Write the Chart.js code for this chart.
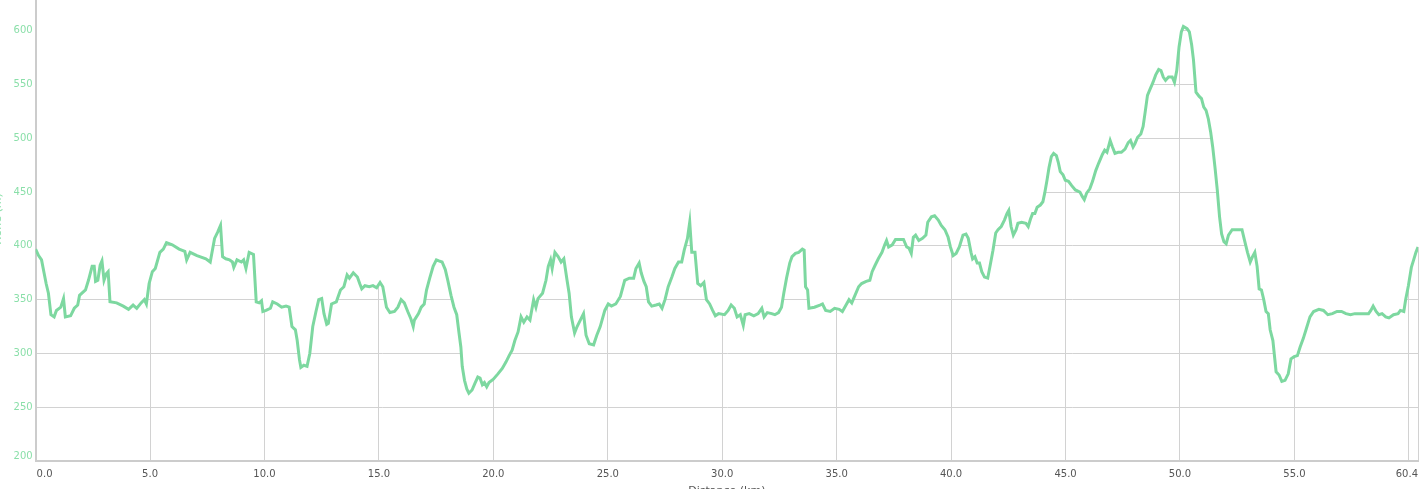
<!DOCTYPE html>
<html>
<head>
<meta charset="utf-8">
<script src="https://cdn.jsdelivr.net/npm/chart.js@4.4.1/dist/chart.umd.min.js"></script>
<style>
  html, body { margin: 0; padding: 0; background: #fff; overflow: hidden; width: 1426px; height: 489px; }
  #wrap { position: absolute; left: -12px; top: -33px; width: 1438px; height: 535px; }
</style>
</head>
<body>
<div id="wrap"><canvas id="profile"></canvas></div>
<script>
// distance along the track (km) and elevation (m)
const distanceKm = [
  0, 0.13, 0.26, 0.36, 0.46, 0.56, 0.67, 0.81, 0.91, 1.1,
  1.22, 1.3, 1.53, 1.69, 1.84, 1.92, 2.18, 2.31, 2.47, 2.56,
  2.62, 2.72, 2.82, 2.9, 2.99, 3.09, 3.17, 3.25, 3.54, 3.83,
  4.06, 4.26, 4.42, 4.61, 4.75, 4.84, 4.96, 5.1, 5.23, 5.43,
  5.58, 5.72, 5.97, 6.27, 6.52, 6.6, 6.75, 7.05, 7.44, 7.63,
  7.82, 7.96, 8.08, 8.17, 8.31, 8.47, 8.6, 8.66, 8.8, 8.99,
  9.09, 9.19, 9.33, 9.52, 9.64, 9.77, 9.87, 9.93, 10.07, 10.26,
  10.36, 10.56, 10.75, 10.94, 11.08, 11.2, 11.35, 11.43, 11.53, 11.59,
  11.72, 11.86, 11.98, 12.11, 12.25, 12.37, 12.5, 12.6, 12.72, 12.79,
  12.93, 13.14, 13.32, 13.47, 13.61, 13.71, 13.88, 14.06, 14.16, 14.25,
  14.39, 14.58, 14.74, 14.9, 15.05, 15.17, 15.33, 15.48, 15.68, 15.83,
  15.97, 16.11, 16.26, 16.4, 16.5, 16.55, 16.73, 16.85, 16.98, 17.08,
  17.22, 17.37, 17.51, 17.62, 17.76, 17.9, 18.01, 18.15, 18.28, 18.4,
  18.5, 18.58, 18.64, 18.74, 18.84, 18.93, 19.07, 19.19, 19.32, 19.42,
  19.52, 19.61, 19.71, 19.81, 20.0, 20.2, 20.39, 20.55, 20.69, 20.82,
  20.94, 21.08, 21.21, 21.33, 21.47, 21.6, 21.76, 21.86, 21.95, 22.15,
  22.3, 22.4, 22.5, 22.57, 22.69, 22.83, 22.96, 23.08, 23.22, 23.31,
  23.41, 23.55, 23.66, 23.8, 23.94, 24.05, 24.19, 24.38, 24.52, 24.67,
  24.87, 25.02, 25.16, 25.35, 25.55, 25.74, 25.94, 26.13, 26.23, 26.37,
  26.46, 26.58, 26.68, 26.78, 26.92, 27.11, 27.25, 27.37, 27.5, 27.64,
  27.8, 27.93, 28.09, 28.23, 28.34, 28.48, 28.58, 28.67, 28.81, 28.93,
  29.06, 29.2, 29.31, 29.45, 29.58, 29.7, 29.84, 30.1, 30.26, 30.39,
  30.53, 30.65, 30.79, 30.92, 31.0, 31.18, 31.38, 31.57, 31.73, 31.83,
  31.97, 32.16, 32.3, 32.46, 32.59, 32.69, 32.81, 32.95, 33.05, 33.2,
  33.34, 33.5, 33.58, 33.64, 33.73, 33.79, 34.03, 34.27, 34.38, 34.52,
  34.72, 34.91, 35.11, 35.25, 35.41, 35.54, 35.66, 35.8, 35.96, 36.09,
  36.29, 36.45, 36.55, 36.68, 36.82, 36.98, 37.1, 37.18, 37.27, 37.43,
  37.57, 37.76, 37.92, 38.06, 38.16, 38.26, 38.35, 38.45, 38.59, 38.75,
  38.9, 38.98, 39.14, 39.28, 39.44, 39.57, 39.73, 39.87, 39.97, 40.09,
  40.22, 40.36, 40.52, 40.65, 40.75, 40.87, 40.94, 41.04, 41.14, 41.24,
  41.34, 41.46, 41.6, 41.7, 41.83, 41.95, 42.05, 42.19, 42.33, 42.44,
  42.52, 42.62, 42.72, 42.84, 42.92, 43.08, 43.27, 43.37, 43.47, 43.56,
  43.66, 43.76, 43.9, 44.01, 44.09, 44.19, 44.28, 44.38, 44.48, 44.6,
  44.68, 44.77, 44.89, 44.99, 45.13, 45.27, 45.43, 45.63, 45.73, 45.82,
  45.92, 46.06, 46.18, 46.32, 46.45, 46.61, 46.71, 46.81, 46.95, 47.05,
  47.16, 47.3, 47.44, 47.6, 47.74, 47.84, 47.95, 48.03, 48.15, 48.29,
  48.39, 48.49, 48.58, 48.68, 48.82, 48.94, 49.07, 49.17, 49.27, 49.37,
  49.5, 49.66, 49.76, 49.86, 49.96, 50.06, 50.15, 50.31, 50.41, 50.51,
  50.59, 50.7, 50.84, 50.94, 51.04, 51.14, 51.24, 51.34, 51.43, 51.53,
  51.63, 51.73, 51.82, 51.92, 52.02, 52.12, 52.28, 52.41, 52.61, 52.71,
  52.81, 52.95, 53.07, 53.17, 53.27, 53.37, 53.46, 53.56, 53.66, 53.76,
  53.86, 53.94, 54.06, 54.2, 54.33, 54.45, 54.59, 54.73, 54.85, 54.99,
  55.13, 55.25, 55.39, 55.52, 55.68, 55.84, 56.07, 56.27, 56.46, 56.66,
  56.86, 57.06, 57.25, 57.45, 57.64, 57.84, 58.04, 58.24, 58.34, 58.44,
  58.57, 58.69, 58.83, 58.99, 59.13, 59.33, 59.53, 59.63, 59.78, 59.86,
  59.98, 60.11, 60.21, 60.31, 60.4
];
const elevationM = [
  397, 391, 387, 376, 365, 356, 336, 334, 340, 343,
  351, 334, 335, 342, 345, 354, 359, 368, 381, 381,
  367, 368, 382, 386, 368, 374, 376, 348, 347, 344,
  341, 345, 342, 347, 350, 346, 365, 376, 379, 394,
  397, 403, 401, 397, 395, 387, 394, 391, 388, 385,
  407, 413, 419, 390, 388, 387, 385, 380, 387, 385,
  387, 379, 394, 392, 348, 347, 349, 339, 340, 342,
  348, 346, 343, 344, 343, 325, 322, 312, 294, 287,
  289, 288, 300, 325, 339, 350, 351, 337, 327, 328,
  346, 348, 359, 362, 373, 370, 375, 371, 365, 360,
  363, 362, 363, 361, 366, 362, 343, 338, 339, 343,
  350, 347, 339, 332, 325, 331, 337, 343, 346, 359,
  370, 381, 387, 386, 385, 378, 368, 354, 343, 336,
  319, 306, 288, 275, 267, 263, 266, 272, 278, 277,
  271, 273, 269, 273, 276, 281, 286, 292, 298, 303,
  312, 320, 334, 329, 334, 331, 350, 343, 351, 356,
  368, 381, 387, 379, 394, 390, 385, 388, 368, 356,
  334, 319, 325, 331, 337, 317, 309, 308, 317, 325,
  340, 346, 344, 346, 353, 368, 370, 370, 379, 384,
  375, 367, 362, 348, 344, 345, 346, 342, 350, 362,
  371, 379, 385, 385, 396, 407, 422, 394, 394, 365,
  363, 366, 350, 346, 340, 335, 337, 336, 340, 345,
  342, 334, 336, 326, 336, 337, 335, 337, 342, 334,
  338, 337, 336, 338, 343, 356, 370, 384, 390, 393,
  394, 397, 396, 362, 359, 342, 343, 345, 346, 340,
  339, 342, 341, 339, 345, 350, 347, 354, 362, 365,
  367, 368, 376, 382, 388, 394, 401, 405, 399, 401,
  406, 406, 406, 399, 398, 393, 408, 410, 405, 407,
  410, 422, 427, 428, 424, 419, 415, 408, 399, 391,
  393, 399, 410, 411, 407, 394, 388, 390, 384, 384,
  376, 371, 370, 381, 396, 412, 415, 418, 424, 430,
  433, 418, 410, 415, 421, 422, 421, 418, 425, 430,
  430, 436, 438, 441, 449, 461, 473, 483, 486, 484,
  478, 469, 466, 461, 460, 456, 452, 450, 446, 443,
  449, 453, 460, 470, 477, 485, 489, 487, 498, 492,
  486, 487, 487, 490, 496, 498, 492, 495, 501, 504,
  511, 526, 540, 545, 552, 559, 564, 563, 557, 554,
  557, 557, 552, 563, 585, 599, 604, 602, 599, 587,
  573, 543, 539, 537, 529, 526, 518, 506, 492, 473,
  452, 427, 411, 404, 402, 410, 415, 415, 415, 415,
  406, 394, 385, 390, 394, 381, 360, 359, 350, 339,
  337, 322, 312, 283, 280, 274, 275, 281, 295, 297,
  298, 306, 314, 323, 334, 339, 341, 340, 336, 337,
  339, 339, 337, 336, 337, 337, 337, 337, 340, 344,
  339, 336, 337, 334, 333, 336, 337, 340, 339, 350,
  363, 380, 387, 394, 399
];
const xTicks = [0, 5, 10, 15, 20, 25, 30, 35, 40, 45, 50, 55, 60, 60.4];
const yTicks = [200, 250, 300, 350, 400, 450, 500, 550, 600, 650];

const GREEN = '#7dd8a0';
const GREEN_TXT = '#8adfa9';
const GREY_TXT = '#555555';
const GRID = '#d2d2d2';
const FONT = '"DejaVu Sans", Verdana, sans-serif';

// grid lines only show underneath the profile: clip the scale's own grid
// drawing to the area below the line
function clipGridUnderProfile(scale) {
  if (scale._gridClipped) return;
  scale._gridClipped = true;
  const drawGrid = scale.drawGrid;
  scale.drawGrid = function (area) {
    const chart = this.chart;
    const pts = chart.getDatasetMeta(0).data;
    const ctx = chart.ctx, ca = chart.chartArea;
    ctx.save();
    if (pts.length) {
      ctx.beginPath();
      ctx.moveTo(pts[0].x - 1, ca.bottom + 2);
      ctx.lineTo(pts[0].x - 1, pts[0].y);
      pts.forEach(p => ctx.lineTo(p.x, p.y));
      ctx.lineTo(pts[pts.length - 1].x + 1, pts[pts.length - 1].y);
      ctx.lineTo(pts[pts.length - 1].x + 1, ca.bottom + 2);
      ctx.closePath();
      ctx.clip();
    }
    drawGrid.call(this, area);
    ctx.restore();
  };
}

// labels at the ends are pushed inside the plot, like the original does
const edgeLabels = {
  id: 'edgeLabels',
  afterDraw(chart) {
    const { ctx, chartArea } = chart;
    const x = chart.scales.x, y = chart.scales.y;
    ctx.save();
    ctx.font = '10px ' + FONT;
    ctx.textBaseline = 'middle';
    const ly = x.top + 7 + 6;
    ctx.fillStyle = GREY_TXT;
    ctx.textAlign = 'left';
    ctx.fillText(xTicks[0].toFixed(1), chartArea.left + 1, ly);
    ctx.textAlign = 'right';
    ctx.fillText(xTicks[xTicks.length - 1].toFixed(1), chartArea.right, ly);
    ctx.fillStyle = GREEN_TXT;
    ctx.fillText(String(yTicks[0]), y.right - 3, y.getPixelForValue(yTicks[0]) - 5);
    ctx.restore();
  }
};

const points = distanceKm.map((d, i) => ({ x: d, y: elevationM[i] }));

new Chart(document.getElementById('profile'), {
  type: 'line',
  data: {
    datasets: [{
      data: points,
      borderColor: GREEN,
      borderWidth: 3,
      fill: false,
      pointRadius: 0,
      tension: 0
    }]
  },
  options: {
    responsive: true,
    maintainAspectRatio: false,
    animation: false,
    layout: { padding: { top: 10, right: 8, left: 0, bottom: 0 } },
    plugins: { legend: { display: false }, tooltip: { enabled: false } },
    scales: {
      x: {
        type: 'linear',
        min: 0,
        max: 60.4,
        afterBuildTicks: s => { s.ticks = xTicks.map(v => ({ value: v })); },
        afterFit: s => { s.height = 41; },
        afterUpdate: clipGridUnderProfile,
        ticks: {
          autoSkip: false,
          maxRotation: 0,
          padding: 7,
          color: GREY_TXT,
          font: { family: FONT, size: 10 },
          callback: v => (v === 0 || v === 60 || v === 60.4) ? '' : v.toFixed(1)
        },
        grid: { color: GRID, lineWidth: 1, drawTicks: false },
        border: { color: '#cccccc', width: 2 },
        title: { display: true, text: 'Distance (km)', color: GREY_TXT, font: { family: FONT, size: 11 }, padding: { top: 4, bottom: 4 } }
      },
      y: {
        min: 200,
        max: 650,
        afterBuildTicks: s => { s.ticks = yTicks.map(v => ({ value: v })); },
        afterFit: s => { s.width = 47.6; },
        afterUpdate: clipGridUnderProfile,
        ticks: {
          padding: 3,
          color: GREEN_TXT,
          font: { family: FONT, size: 10 },
          callback: v => v === 200 ? '' : String(v)
        },
        grid: { color: GRID, lineWidth: 1, drawTicks: false },
        border: { color: '#cccccc', width: 2 },
        title: { display: true, text: 'Höhe (m)', color: GREEN_TXT, font: { family: FONT, size: 11 }, padding: { top: 4, bottom: 4 } }
      }
    }
  },
  plugins: [edgeLabels]
});
</script>
</body>
</html>
